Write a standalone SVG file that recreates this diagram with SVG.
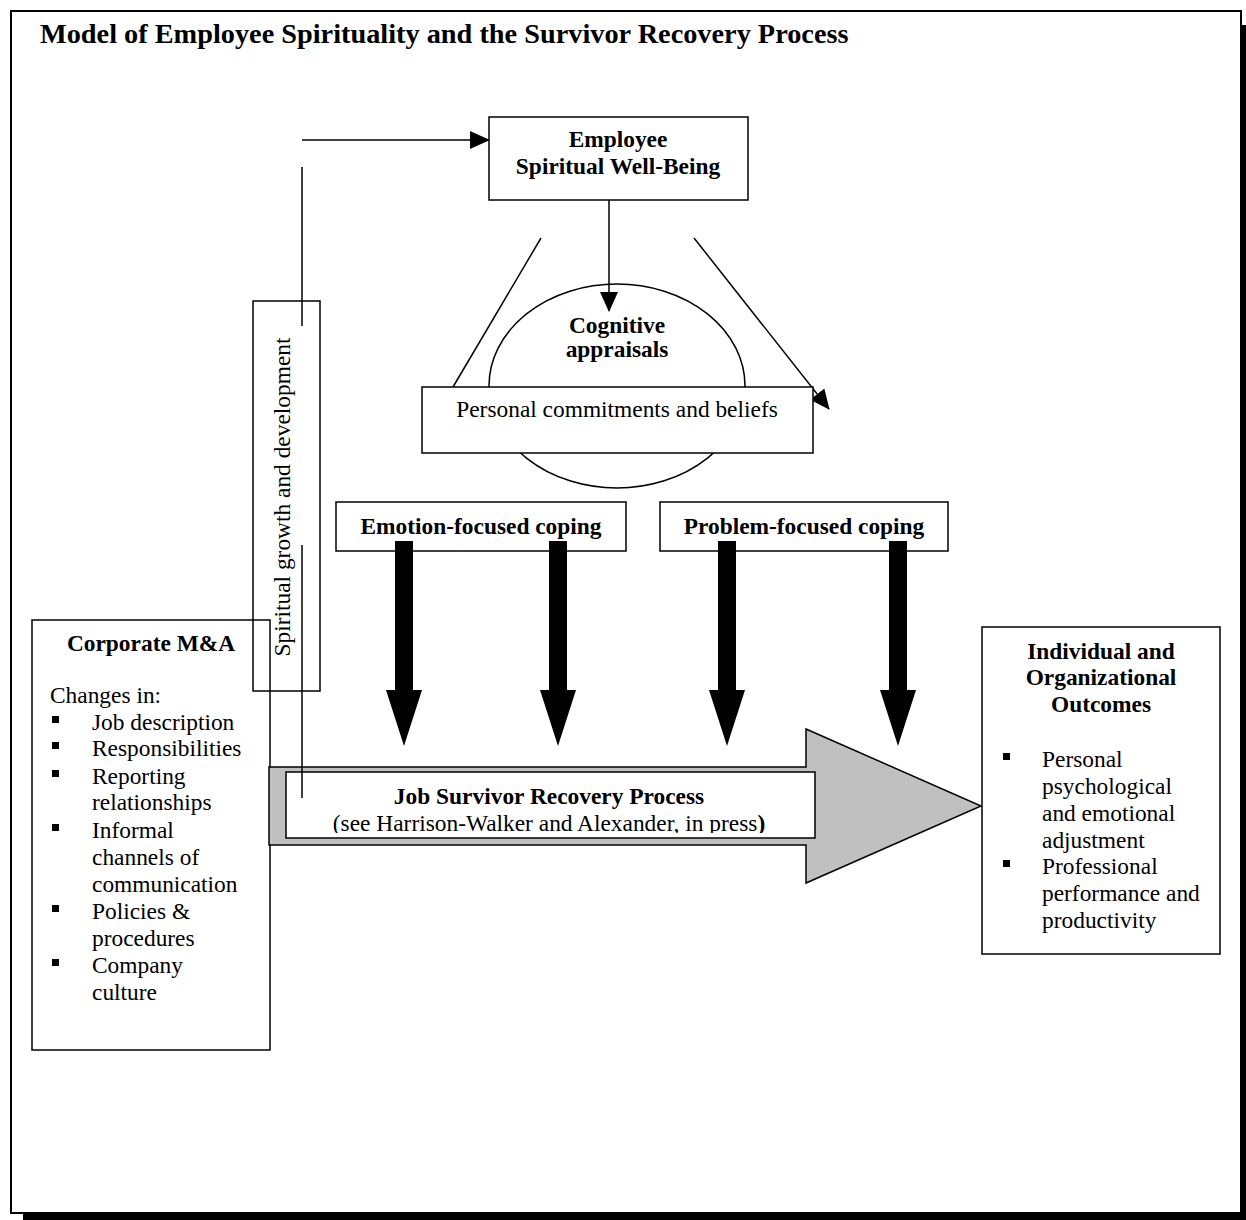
<svg xmlns="http://www.w3.org/2000/svg" width="1246" height="1220" viewBox="0 0 1246 1220">
<style>
text{font-family:"Liberation Serif","Times New Roman",serif;font-size:23.4px;fill:#000}
.b{font-weight:bold}
.m{text-anchor:middle}
.box{fill:#fff;stroke:#000;stroke-width:1.5}
.open{fill:none;stroke:#000;stroke-width:1.5}
.ln{fill:none;stroke:#000;stroke-width:1.5}
.thick{fill:#000}
</style>
<defs>
<marker id="ah" markerUnits="userSpaceOnUse" markerWidth="20" markerHeight="18" viewBox="0 0 20 18" refX="19" refY="9" orient="auto">
<path d="M0,0 L20,9 L0,18 Z" fill="#000"/>
</marker>
<clipPath id="cl"><rect x="286" y="772" width="529" height="61"/></clipPath>
</defs>
<rect x="0" y="0" width="1246" height="1220" fill="#fff"/>
<rect x="23" y="1213" width="1223" height="7" fill="#000"/>
<rect x="1241" y="25" width="5" height="1195" fill="#000"/>
<rect x="11" y="11" width="1230" height="1202" fill="#fff" stroke="#000" stroke-width="2"/>
<text x="40" y="43" class="b" style="font-size:28.3px">Model of Employee Spirituality and the Survivor Recovery Process</text>

<g id="cognitive">
<ellipse cx="617" cy="386" rx="128" ry="102" class="box"/>
<text x="617" y="333" class="b m">Cognitive</text>
<text x="617" y="357" class="b m">appraisals</text>
</g>

<g id="connectors">
<line x1="302" y1="140" x2="489" y2="140" class="ln" marker-end="url(#ah)"/>
<line x1="302" y1="167" x2="302" y2="326" class="ln"/>
<line x1="609" y1="200" x2="609" y2="311" class="ln" marker-end="url(#ah)"/>
<line x1="541" y1="238" x2="453" y2="387" class="ln"/>
<line x1="694" y1="238" x2="829" y2="409" class="ln" marker-end="url(#ah)"/>
</g>

<g id="employee">
<rect x="489" y="117" width="259" height="83" class="box"/>
<text x="618" y="147" class="b m">Employee</text>
<text x="618" y="174" class="b m">Spiritual Well-Being</text>
</g>

<g id="personal">
<rect x="422" y="387" width="391" height="66" class="box"/>
<text x="617" y="417" class="m">Personal commitments and beliefs</text>
</g>

<g id="emotion">
<rect x="336" y="502" width="290" height="49" class="box"/>
<text x="481" y="534" class="b m">Emotion-focused coping</text>
</g>

<g id="problem">
<rect x="660" y="502" width="288" height="49" class="box"/>
<text x="804" y="534" class="b m">Problem-focused coping</text>
</g>

<g id="coping-arrows">
<polygon class="thick" points="395,541 413,541 413,690 422,690 404,746 386,690 395,690"/>
<polygon class="thick" points="549,541 567,541 567,690 576,690 558,746 540,690 549,690"/>
<polygon class="thick" points="718,541 736,541 736,690 745,690 727,746 709,690 718,690"/>
<polygon class="thick" points="889,541 907,541 907,690 916,690 898,746 880,690 889,690"/>
</g>

<g id="corporate">
<rect x="32" y="620" width="238" height="430" class="open"/>
<text x="151" y="651" class="b m">Corporate M&amp;A</text>
<text x="50" y="703">Changes in:</text>
<g fill="#000">
<rect x="52" y="716" width="7" height="7"/>
<rect x="52" y="742" width="7" height="7"/>
<rect x="52" y="770" width="7" height="7"/>
<rect x="52" y="824" width="7" height="7"/>
<rect x="52" y="905" width="7" height="7"/>
<rect x="52" y="959" width="7" height="7"/>
</g>
<text x="92" y="730">Job description</text>
<text x="92" y="756">Responsibilities</text>
<text x="92" y="784">Reporting</text>
<text x="92" y="810">relationships</text>
<text x="92" y="838">Informal</text>
<text x="92" y="865">channels of</text>
<text x="92" y="892">communication</text>
<text x="92" y="919">Policies &amp;</text>
<text x="92" y="946">procedures</text>
<text x="92" y="973">Company</text>
<text x="92" y="1000">culture</text>
</g>

<g id="spiritual-growth">
<rect x="253" y="301" width="67" height="390" class="open"/>
<text transform="translate(290,497) rotate(-90)" class="m">Spiritual growth and development</text>
</g>

<g id="recovery">
<polygon points="269,767 806,767 806,729 981,806 806,883 806,845 269,845" fill="#c0c0c0" stroke="#000" stroke-width="1.5"/>
<rect x="286" y="772" width="529" height="66" class="box"/>
<text x="549" y="804" class="b m">Job Survivor Recovery Process</text>
<text x="549" y="831" class="m" clip-path="url(#cl)">(see Harrison-Walker and Alexander, in press<tspan class="b">)</tspan></text>
</g>

<g id="connectors-2">
<line x1="302" y1="545" x2="302" y2="798" class="ln"/>
</g>

<g id="outcomes">
<rect x="982" y="627" width="238" height="327" class="box"/>
<text x="1101" y="659" class="b m">Individual and</text>
<text x="1101" y="685" class="b m">Organizational</text>
<text x="1101" y="712" class="b m">Outcomes</text>
<g fill="#000">
<rect x="1003" y="753" width="7" height="7"/>
<rect x="1003" y="860" width="7" height="7"/>
</g>
<text x="1042" y="767">Personal</text>
<text x="1042" y="794">psychological</text>
<text x="1042" y="821">and emotional</text>
<text x="1042" y="848">adjustment</text>
<text x="1042" y="874">Professional</text>
<text x="1042" y="901">performance and</text>
<text x="1042" y="928">productivity</text>
</g>
</svg>
